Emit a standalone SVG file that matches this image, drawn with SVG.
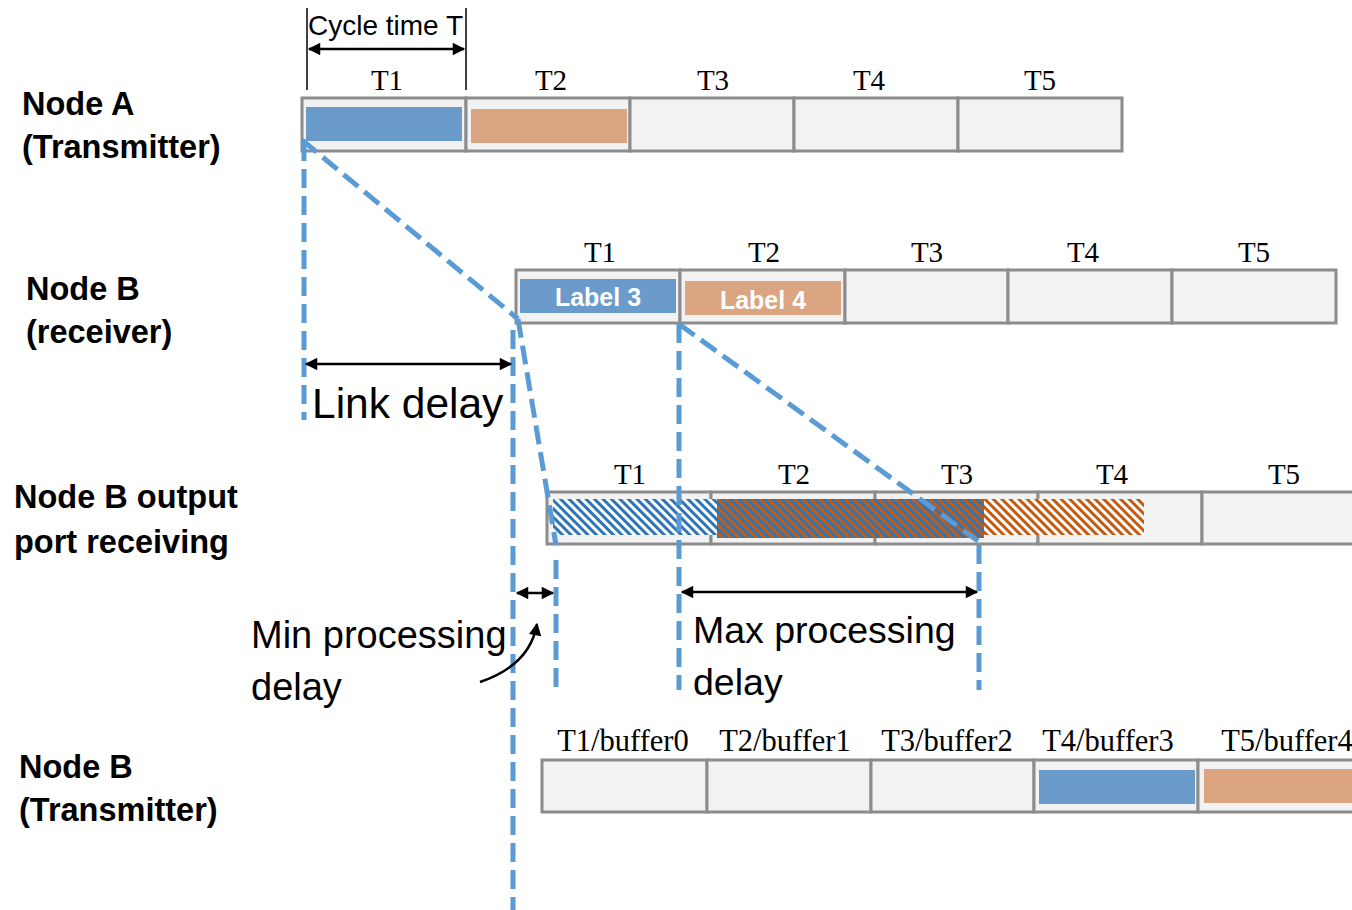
<svg xmlns="http://www.w3.org/2000/svg" width="1352" height="910" viewBox="0 0 1352 910">
<style>
.cell{fill:#F2F2F2;stroke:#8C8C8C;stroke-width:3}
.blue{fill:#6A9BCB}
.orange{fill:#DBA581}
.tm{font-family:"Liberation Serif",serif;font-size:29px;fill:#000;text-anchor:middle}
.tb{font-family:"Liberation Serif",serif;font-size:30.5px;fill:#000;text-anchor:middle}
.nl{font-family:"Liberation Sans",Arial,sans-serif;font-weight:bold;font-size:32.5px;fill:#000}
.sl{font-family:"Liberation Sans",Arial,sans-serif;fill:#000}
.lbl{font-family:"Liberation Sans",Arial,sans-serif;font-weight:bold;font-size:25px;fill:#fff;text-anchor:middle}
.dash{fill:none;stroke:#5B9BD5;stroke-width:5;stroke-dasharray:19 8}
.arr{fill:none;stroke:#000;stroke-width:2.5}
</style>
<defs>
<marker id="ah" viewBox="0 0 10 10" refX="9" refY="5" markerWidth="6" markerHeight="5" orient="auto-start-reverse" markerUnits="strokeWidth">
<path d="M0,0 L10,5 L0,10 z" fill="#000"/>
</marker>
<pattern id="hb" patternUnits="userSpaceOnUse" width="6" height="6" patternTransform="rotate(-45)">
<rect width="6" height="6" fill="#fff"/><rect width="3" height="6" fill="#2E75B6"/>
</pattern>
<pattern id="ho" patternUnits="userSpaceOnUse" width="6" height="6" patternTransform="rotate(-45)">
<rect width="6" height="6" fill="#fff"/><rect width="3" height="6" fill="#C55A11"/>
</pattern>
<pattern id="hx" patternUnits="userSpaceOnUse" width="6" height="6" patternTransform="rotate(-45)">
<rect width="6" height="6" fill="#C55A11"/><rect width="3" height="6" fill="#2E75B6"/>
</pattern>
</defs>

<g id="cycle-time">
<line x1="307" y1="8" x2="307" y2="90" stroke="#000" stroke-width="1.5"/>
<line x1="466" y1="8" x2="466" y2="90" stroke="#000" stroke-width="1.5"/>
<line class="arr" x1="309" y1="49" x2="464" y2="49" marker-start="url(#ah)" marker-end="url(#ah)"/>
<text class="sl" x="308" y="35" font-size="28">Cycle time T</text>
</g>

<g id="nodeA">
<text class="nl" x="22" y="115">Node A</text>
<text class="nl" x="22" y="158">(Transmitter)</text>
<rect class="cell" x="302" y="98" width="164" height="53"/>
<rect class="cell" x="466" y="98" width="164" height="53"/>
<rect class="cell" x="630" y="98" width="164" height="53"/>
<rect class="cell" x="794" y="98" width="164" height="53"/>
<rect class="cell" x="958" y="98" width="164" height="53"/>
<rect class="blue" x="306" y="107" width="156" height="34"/>
<rect class="orange" x="471" y="109" width="156" height="34"/>
<text class="tm" x="387" y="90">T1</text>
<text class="tm" x="551" y="90">T2</text>
<text class="tm" x="713" y="90">T3</text>
<text class="tm" x="869" y="90">T4</text>
<text class="tm" x="1040" y="90">T5</text>
</g>

<g id="nodeB-receiver">
<text class="nl" x="26" y="300">Node B</text>
<text class="nl" x="26" y="343">(receiver)</text>
<rect class="cell" x="516" y="270" width="164" height="53"/>
<rect class="cell" x="680" y="270" width="165" height="53"/>
<rect class="cell" x="845" y="270" width="163" height="53"/>
<rect class="cell" x="1008" y="270" width="164" height="53"/>
<rect class="cell" x="1172" y="270" width="164" height="53"/>
<rect class="blue" x="520" y="279" width="156" height="34"/>
<rect class="orange" x="685" y="281" width="156" height="34"/>
<text class="lbl" x="598" y="306">Label 3</text>
<text class="lbl" x="763" y="309">Label 4</text>
<text class="tm" x="600" y="262">T1</text>
<text class="tm" x="764" y="262">T2</text>
<text class="tm" x="927" y="262">T3</text>
<text class="tm" x="1083" y="262">T4</text>
<text class="tm" x="1254" y="262">T5</text>
</g>

<g id="nodeB-output">
<text class="nl" x="14" y="508">Node B output</text>
<text class="nl" x="14" y="553">port receiving</text>
<rect class="cell" x="547" y="492" width="164" height="52"/>
<rect class="cell" x="711" y="492" width="164" height="52"/>
<rect class="cell" x="875" y="492" width="163" height="52"/>
<rect class="cell" x="1038" y="492" width="164" height="52"/>
<rect class="cell" x="1202" y="492" width="164" height="52"/>
<rect x="553" y="499" width="164" height="36" fill="url(#hb)"/>
<rect x="717" y="499" width="267" height="39" fill="url(#hx)"/>
<rect x="984" y="499" width="160" height="36" fill="url(#ho)"/>
<text class="tm" x="630" y="484">T1</text>
<text class="tm" x="794" y="484">T2</text>
<text class="tm" x="957" y="484">T3</text>
<text class="tm" x="1112" y="484">T4</text>
<text class="tm" x="1284" y="484">T5</text>
</g>

<g id="nodeB-transmitter">
<text class="nl" x="19" y="778">Node B</text>
<text class="nl" x="19" y="821">(Transmitter)</text>
<rect class="cell" x="542" y="760" width="165" height="52"/>
<rect class="cell" x="707" y="760" width="164" height="52"/>
<rect class="cell" x="871" y="760" width="163" height="52"/>
<rect class="cell" x="1034" y="760" width="164" height="52"/>
<rect class="cell" x="1198" y="760" width="164" height="52"/>
<rect class="blue" x="1039" y="770" width="156" height="34"/>
<rect class="orange" x="1204" y="769" width="156" height="34"/>
<text class="tb" x="623" y="751">T1/buffer0</text>
<text class="tb" x="785" y="751">T2/buffer1</text>
<text class="tb" x="947" y="751">T3/buffer2</text>
<text class="tb" x="1108" y="751">T4/buffer3</text>
<text class="tb" x="1287" y="751">T5/buffer4</text>
</g>

<g id="connectors">
<line class="dash" x1="304" y1="142" x2="304" y2="420"/>
<line class="dash" x1="302" y1="140" x2="518" y2="319"/>
<line class="dash" x1="518" y1="319" x2="556" y2="545"/>
<line class="dash" x1="513" y1="330" x2="513" y2="910"/>
<line class="dash" x1="556" y1="560" x2="556" y2="690"/>
<line class="dash" x1="679" y1="324" x2="679" y2="690"/>
<line class="dash" x1="679" y1="324" x2="978" y2="541"/>
<line class="dash" x1="979" y1="545" x2="979" y2="690"/>
<line class="arr" x1="306" y1="364" x2="511" y2="364" marker-start="url(#ah)" marker-end="url(#ah)"/>
<line class="arr" x1="517" y1="593" x2="553" y2="593" marker-start="url(#ah)" marker-end="url(#ah)"/>
<line class="arr" x1="682" y1="592" x2="977" y2="592" marker-start="url(#ah)" marker-end="url(#ah)"/>
<path class="arr" d="M480,682 Q530,665 537,624" marker-end="url(#ah)"/>
</g>

<g id="annotations">
<text class="sl" x="312" y="418" font-size="42.5">Link delay</text>
<text class="sl" x="251" y="648" font-size="38">Min processing</text>
<text class="sl" x="251" y="700" font-size="38">delay</text>
<text class="sl" x="693" y="643" font-size="37.5">Max processing</text>
<text class="sl" x="693" y="695" font-size="37.5">delay</text>
</g>
</svg>
